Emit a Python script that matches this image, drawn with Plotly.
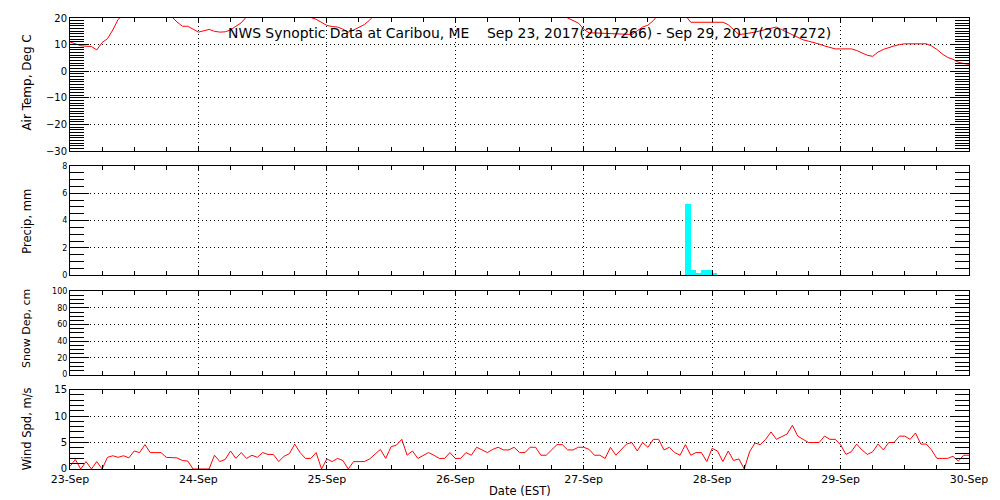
import pandas as pd
import plotly.graph_objects as go

# ---------------- data (hourly, Sep 23 00:00 EST -> Sep 30 00:00 EST) ----------------
start_time = "2017-09-23 00:00"
n_hours = 169

air_temp_c = [
    11.0, 10.4, 9.6, 9.4, 9.3, 8.0, 10.8, 12.2, 15.5, 19.5, 21.5, 23.0,
    24.0, 24.5, 25.0, 24.5, 24.0, 23.0, 22.0, 20.5, 18.5, 16.9, 16.9, 15.8,
    14.7, 15.2, 15.7, 15.0, 14.7, 14.8, 15.5, 16.9, 18.2, 20.5, 23.0, 25.0,
    26.5, 27.5, 28.0, 28.0, 27.5, 26.5, 25.0, 23.5, 21.5, 20.2, 19.5, 18.5,
    17.2, 16.8, 16.6, 15.8, 14.7, 15.5, 16.5, 17.5, 19.2, 21.5, 24.0, 26.0,
    27.5, 28.5, 29.0, 29.0, 28.5, 27.5, 26.0, 24.5, 23.5, 22.5, 22.0, 21.5,
    21.0, 20.8, 20.5, 20.5, 20.5, 20.8, 21.5, 23.0, 25.0, 27.0, 28.5, 29.5,
    30.0, 30.0, 29.5, 28.5, 27.0, 25.5, 24.0, 22.5, 21.0, 20.0, 19.0, 18.1,
    15.8, 14.4, 14.4, 14.3, 14.2, 14.0, 14.0, 13.9, 13.8, 13.8, 15.2, 16.6,
    17.3, 19.0, 21.5, 23.0, 24.0, 24.0, 23.0, 21.0, 18.4, 18.4, 18.4, 18.4,
    18.4, 18.4, 18.4, 17.5, 15.6, 13.8, 14.0, 14.3, 14.7, 15.2, 15.6, 16.2,
    16.6, 15.6, 14.7, 13.8, 12.8, 11.8, 11.3, 10.8, 10.2, 9.5, 8.9, 8.4,
    8.4, 8.4, 8.4, 7.8, 6.9, 6.0, 5.6, 7.2, 8.2, 9.0, 9.5, 10.0,
    10.3, 10.3, 10.3, 10.3, 10.3, 9.5, 8.2, 6.5, 5.2, 4.5, 3.4, 2.9,
    2.6,
]

wind_spd_ms = [
    0.5, 1.8, 0.0, 1.4, 0.0, 1.4, 0.0, 2.2, 2.5, 2.2, 2.5, 2.1,
    3.4, 3.1, 4.6, 3.1, 3.1, 3.1, 2.2, 2.2, 2.1, 1.6, 1.5, 0.0,
    0.0, 0.0, 0.0, 2.6, 1.4, 1.8, 3.4, 2.0, 3.1, 2.0, 2.6, 2.2,
    3.1, 2.75, 2.75, 1.4, 2.4, 2.9, 4.7, 3.1, 2.0, 2.0, 3.1, 0.0,
    1.9, 1.4, 2.0, 1.6, 0.0, 1.4, 1.4, 1.4, 1.9, 2.9, 3.7, 2.0,
    4.2, 4.5, 5.6, 2.6, 3.4, 2.0, 2.5, 3.1, 2.6, 2.0, 2.0, 3.1,
    2.0, 2.0, 3.1, 2.6, 4.1, 3.6, 3.1, 3.7, 4.1, 3.6, 3.6, 4.1,
    3.1, 3.1, 4.1, 4.1, 2.6, 2.6, 3.7, 4.6, 4.6, 3.6, 3.6, 4.1,
    4.1, 3.7, 2.6, 2.6, 2.0, 4.1, 2.6, 3.6, 4.7, 5.0, 3.4, 5.0,
    4.1, 5.6, 5.6, 3.6, 4.1, 3.1, 2.6, 4.6, 2.6, 3.1, 3.1, 1.4,
    3.9, 3.4, 1.4, 3.4, 1.6, 1.9, 0.0, 3.25, 4.9, 4.6, 5.6, 7.0,
    5.6, 6.1, 6.6, 8.25, 6.2, 5.6, 5.0, 5.0, 5.0, 6.2, 5.6, 5.6,
    4.6, 2.75, 3.25, 4.7, 3.6, 2.75, 3.25, 4.7, 3.6, 5.0, 5.0, 6.2,
    6.2, 5.6, 6.8, 4.7, 4.7, 3.6, 2.0, 2.0, 2.0, 2.4, 1.5, 2.6,
    2.6,
]

precip_times = [
    "2017-09-27 19:00", "2017-09-27 20:00", "2017-09-27 21:00",
    "2017-09-27 22:00", "2017-09-27 23:00", "2017-09-28 00:00",
]
precip_mm = [5.2, 0.4, 0.2, 0.4, 0.4, 0.2]

snow_times = []
snow_dep_cm = []

title_text = ("NWS Synoptic Data at Caribou, ME\u00a0\u00a0\u00a0 Sep 23, 2017(2017266)"
              " - Sep 29, 2017(2017272)")
panel_titles = ["Air Temp, Deg C", "Precip, mm", "Snow Dep, cm", "Wind Spd, m/s"]
x_title = "Date (EST)"

hours = pd.date_range(start_time, periods=n_hours, freq="h")

# ---------------- figure ----------------
FONT = "DejaVu Sans"
W, H = 1000, 500
ML, MR, MT, MB = 70, 30, 15, 31
plot_h = H - MT - MB

def dom(top_px, bot_px):
    return [1 - (bot_px - MT) / plot_h, 1 - (top_px - MT) / plot_h]

panels_px = [(15, 149), (164, 274), (290, 374), (389, 469)]
domains = [dom(a, b) for a, b in panels_px]

fig = go.Figure()
fig.add_trace(go.Scatter(x=hours, y=air_temp_c, mode="lines",
                         line=dict(color="#ff0000", width=1),
                         xaxis="x", yaxis="y", showlegend=False, hoverinfo="skip"))
fig.add_trace(go.Bar(x=precip_times, y=precip_mm, width=3600000, offset=0,
                     marker=dict(color="#00ffff", line=dict(width=0)),
                     xaxis="x2", yaxis="y2", showlegend=False))
fig.add_trace(go.Scatter(x=snow_times, y=snow_dep_cm, mode="lines",
                         line=dict(color="#ff0000", width=1),
                         xaxis="x3", yaxis="y3", showlegend=False))
fig.add_trace(go.Scatter(x=hours, y=wind_spd_ms, mode="lines",
                         line=dict(color="#ff0000", width=1),
                         xaxis="x4", yaxis="y4", showlegend=False, hoverinfo="skip"))

xrange = ["2017-09-23 00:00", "2017-09-30 00:00"]
DASH = "1px,3px"

def xaxis(anchor, labels):
    return dict(
        type="date", range=xrange, anchor=anchor,
        showline=True, linecolor="black", linewidth=1, mirror="ticks",
        ticks="inside", ticklen=4, tickcolor="black", tickwidth=1,
        dtick=86400000, tick0="2017-09-23", tickformat="%d-%b",
        showticklabels=labels,
        tickfont=dict(family=FONT, size=11, color="black"),
        showgrid=True, gridcolor="black", gridwidth=1, griddash=DASH,
        minor=dict(dtick=6 * 3600000, ticks="inside", ticklen=4,
                   tickcolor="black", showgrid=False),
        zeroline=False, fixedrange=True,
    )

def yaxis(anchor, d, rng, dtick, minor_dtick, fsize):
    return dict(
        domain=d, range=rng, anchor=anchor,
        showline=True, linecolor="black", linewidth=1, mirror="ticks",
        ticks="inside", ticklen=19, tickcolor="black", tickwidth=1,
        dtick=dtick, tick0=0,
        tickfont=dict(family=FONT, size=fsize, color="black"),
        showgrid=True, gridcolor="black", gridwidth=1, griddash=DASH,
        minor=dict(dtick=minor_dtick, ticks="inside", ticklen=14,
                   tickcolor="black", showgrid=False),
        zeroline=False, fixedrange=True,
    )

fig.update_layout(
    width=W, height=H,
    margin=dict(l=ML, r=MR, t=MT, b=MB),
    paper_bgcolor="white", plot_bgcolor="white",
    bargap=0,
    xaxis=xaxis("y", False),
    xaxis2=dict(xaxis("y2", False), matches="x"),
    xaxis3=dict(xaxis("y3", False), matches="x"),
    xaxis4=dict(xaxis("y4", True), matches="x"),
    yaxis=yaxis("x", domains[0], [-30, 20], 10, 1, 10),
    yaxis2=yaxis("x2", domains[1], [0, 8], 2, 0.5, 8),
    yaxis3=yaxis("x3", domains[2], [0, 100], 20, 5, 8),
    yaxis4=yaxis("x4", domains[3], [0, 15], 5, 1, 10),
    font=dict(family=FONT, color="black"),
)

def px_to_paper_y(py):
    return 1 - (py - MT) / plot_h

def px_to_paper_x(px):
    return (px - ML) / (W - ML - MR)

annotations = [
    dict(text=title_text, x=px_to_paper_x(530.5), y=px_to_paper_y(30),
         xref="paper", yref="paper", xanchor="center", yanchor="middle",
         showarrow=False, font=dict(family=FONT, size=13.9, color="black")),
    dict(text=x_title, x=px_to_paper_x(520), y=px_to_paper_y(491),
         xref="paper", yref="paper", xanchor="center", yanchor="middle",
         showarrow=False, font=dict(family=FONT, size=11.5, color="black")),
]
title_sizes = [12, 11.5, 11, 11.5]
title_centers = [80, 220, 328, 429]
for yc, t, s in zip(title_centers, panel_titles, title_sizes):
    annotations.append(dict(
        text=t, x=px_to_paper_x(27), y=px_to_paper_y(yc),
        xref="paper", yref="paper", xanchor="center", yanchor="middle",
        textangle=-90, showarrow=False,
        font=dict(family=FONT, size=s, color="black")))
fig.update_layout(annotations=annotations)

fig.write_html(
    "out.html",
    config={"displayModeBar": False},
    post_script="document.body.style.margin='0';document.body.style.padding='0';",
)
